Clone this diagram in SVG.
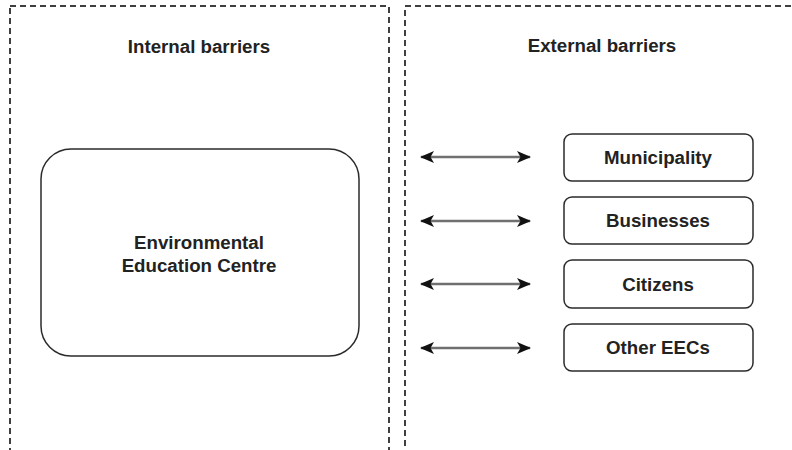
<svg xmlns="http://www.w3.org/2000/svg" width="792" height="450" viewBox="0 0 792 450">
  <style>
    .zone { fill: none; stroke: #000; stroke-width: 1.5; stroke-dasharray: 6 4; }
    .node { fill: #fff; stroke: #2b2b2b; stroke-width: 1.5; }
    .label { font-family: "Liberation Sans", Arial, sans-serif; font-size: 18.7px; font-weight: bold; fill: #222; text-anchor: middle; }
    .link { stroke: #707070; stroke-width: 2.4; fill: none; marker-start: url(#headStart); marker-end: url(#headEnd); }
  </style>
  <defs>
    <marker id="headEnd" viewBox="0 0 14 12" refX="13" refY="6" markerWidth="14" markerHeight="12" markerUnits="userSpaceOnUse" orient="auto">
      <path d="M0,0 L14,6 L0,12 L3.5,6 Z" fill="#111"/>
    </marker>
    <marker id="headStart" viewBox="0 0 14 12" refX="1" refY="6" markerWidth="14" markerHeight="12" markerUnits="userSpaceOnUse" orient="auto">
      <path d="M14,0 L0,6 L14,12 L10.5,6 Z" fill="#111"/>
    </marker>
  </defs>

  <rect width="792" height="450" fill="#fff"/>

  <!-- swimlane zones -->
  <g id="internal-zone">
    <rect class="zone" x="10" y="6" width="379" height="470"/>
    <text class="label" x="199" y="53">Internal barriers</text>
  </g>
  <g id="external-zone">
    <rect class="zone" x="405" y="6" width="400" height="470"/>
    <text class="label" x="602" y="52">External barriers</text>
  </g>

  <!-- central actor -->
  <g id="eec">
    <rect class="node" x="41" y="149" width="318" height="207" rx="30" ry="30" stroke-width="1.7"/>
    <text class="label" x="199" y="248.5">Environmental</text>
    <text class="label" x="199" y="271.5">Education Centre</text>
  </g>

  <!-- external stakeholders -->
  <g id="municipality">
    <rect class="node" x="564" y="134" width="189" height="47" rx="8"/>
    <text class="label" x="658" y="164">Municipality</text>
  </g>
  <g id="businesses">
    <rect class="node" x="564" y="197" width="189" height="47" rx="8"/>
    <text class="label" x="658" y="227">Businesses</text>
  </g>
  <g id="citizens">
    <rect class="node" x="564" y="260" width="189" height="48" rx="8"/>
    <text class="label" x="658" y="290.5">Citizens</text>
  </g>
  <g id="other-eecs">
    <rect class="node" x="564" y="324" width="189" height="47" rx="8"/>
    <text class="label" x="658" y="354">Other EECs</text>
  </g>

  <!-- two-way relations -->
  <g id="connectors">
    <line class="link" x1="421" y1="157" x2="530" y2="157"/>
    <line class="link" x1="421" y1="221" x2="530" y2="221"/>
    <line class="link" x1="421" y1="284" x2="530" y2="284"/>
    <line class="link" x1="421" y1="348" x2="530" y2="348"/>
  </g>
</svg>
